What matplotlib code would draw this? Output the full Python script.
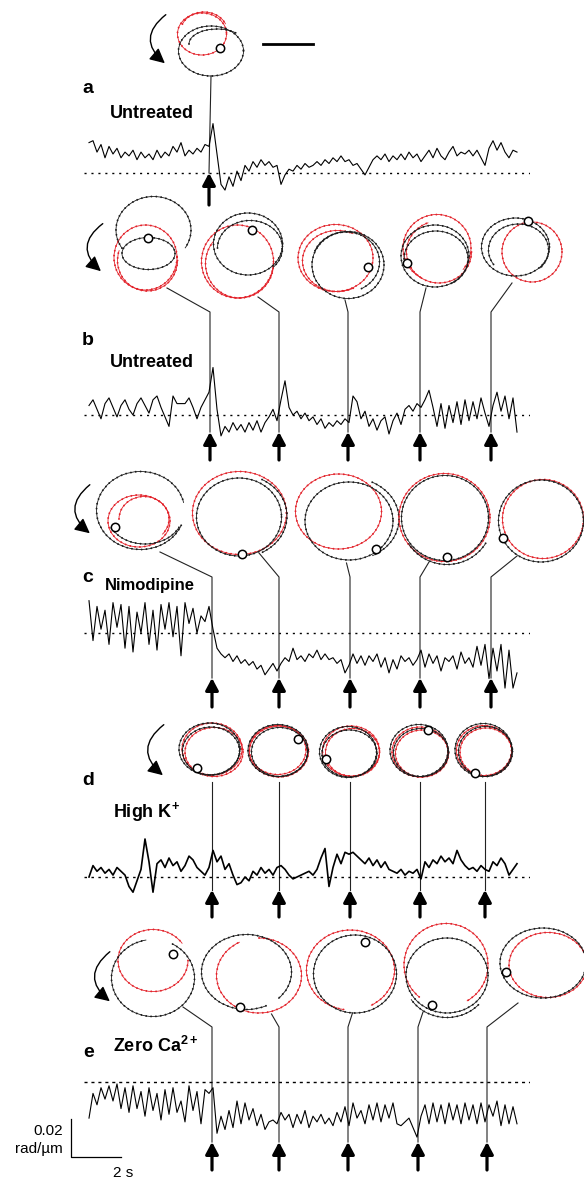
import numpy as np
import matplotlib
matplotlib.use("Agg")
import matplotlib.pyplot as plt
from matplotlib.patches import Arc, FancyArrowPatch

plt.rcParams['font.family'] = ['Liberation Sans', 'DejaVu Sans']
plt.rcParams['mathtext.fontset'] = 'custom'
plt.rcParams['mathtext.rm'] = 'Liberation Sans'
plt.rcParams['mathtext.bf'] = 'Liberation Sans:bold'

# ---------------- data ----------------
DT = 0.16          # sampling interval of the traces (s)
# curvature traces, units of 1e-3 rad/um, relative to the dotted reference level
trace_a = [16, 17, 11, 15, 8, 14, 10, 13, 8, 11, 9, 12, 7, 11, 8, 10, 7, 12, 8, 11, 9, 14, 11, 16, 9, 12, 10, 13, 11, 15,
           14, 26, 10, -6, -9, -2, -7, 1, -4, 4,
           1, 6, 3, 7, 4, 6, 3, 4, -6, -1,
           2, 1, 4, 2, 5, 3, 4, 6, 4, 7,
           5, 8, 6, 9, 6, 7, 4, 5, 2, -1,
           3, 7, 9, 7, 10, 6, 9, 7, 10, 7,
           11, 8, 10, 6, 9, 12, 8, 13, 9, 7,
           11, 14, 9, 11, 10, 12, 9, 12, 8, 4,
           13, 17, 12, 16, 11, 8, 12, 11]
trace_b = [5, 8, 3, -2, 6, 9, 4, -1, 5, 8, 3, 0, 6, 9, 5, 1, 8, 10, 4, -1, -6, 10, 6, 6, 6, 9, 4, -2, 4, 8,
           12, 25, 3, -11, -6, -9, -4, -8, -5, -9,
           -4, -8, -3, -9, -4, -1, 3, -3, 8, 18,
           4, 0, 2, -2, 1, -3, -1, -5, -2, -7,
           -4, -6, -3, -5, -2, -4, 10, 7, -2, 2,
           -6, -2, -8, -3, -1, -10, -3, 1, -5, 3,
           5, 2, 6, 4, 8, 13, 4, -6, 6, -7,
           5, -4, 7, -5, 8, -3, 7, -2, 9, 1,
           -6, 5, 12, 2, 10, -2, 9, -9]
trace_c = [17, -4, 14, 2, 12, -6, 16, 3, 15, -8, 14, -10, 11, 0, 16, -6, 12, -9, 15, 2, 16, -2, 14, -12, 16, 5, 13, 0, 9, 6,
           14, 2, -8, -11, -13, -11, -15, -12, -16, -14,
           -17, -15, -19, -17, -22, -19, -16, -20, -16, -13,
           -15, -8, -14, -12, -15, -11, -13, -9, -14, -11,
           -14, -13, -16, -14, -21, -17, -11, -16, -12, -17,
           -12, -15, -11, -18, -13, -21, -14, -19, -12, -15,
           -13, -17, -14, -9, -18, -11, -16, -12, -20, -13,
           -15, -12, -19, -10, -16, -13, -18, -7, -17, -6,
           -24, -8, -20, -6, -29, -9, -29, -21]
trace_d = [0, 6, 3, 5, 2, 4, 1, 5, 3, 1, -5, -8, -2, 4, 20, 8, -8, 7, 9, 5,
           10, 6, 8, 3, 6, 11, 9, 5, 3, 1,
           5, 14, 8, 11, 4, 7, 1, -4, -3, 0,
           -2, 3, 1, 5, 2, 4, 1, 5, 6, 4,
           1, -1, 0, 1, 2, 3, 1, 4, 10, 15,
           -5, 5, 12, 7, 13, 12, 13, 11, 9, 7,
           10, 6, 9, 5, 8, 4, 3, 2, 4, 1,
           3, 2, 4, -1, 8, 5, 9, 7, 11, 8,
           10, 7, 14, 9, 6, 4, 5, 3, 6, 4,
           3, 8, 6, 10, 7, 1, 4, 7]
trace_e = [-19, -6, -12, -3, -9, -2, -10, -1, -14, -3, -16, -2, -14, -5, -18, -3, -15, -6, -20, -4, -17, -3, -16, -10, -21, -2, -15, -5, -22, -4,
           -6, -3, -27, -18, -25, -15, -24, -10, -22, -11,
           -20, -14, -23, -17, -25, -21, -20, -22, -16, -20,
           -17, -24, -17, -22, -15, -24, -18, -21, -17, -22,
           -19, -23, -16, -21, -13, -23, -11, -19, -15, -22,
           -12, -20, -11, -21, -12, -19, -11, -22, -23, -21,
           -19, -24, -29, -18, -12, -22, -11, -21, -12, -22,
           -11, -20, -12, -22, -11, -20, -12, -22, -11, -21,
           -12, -18, -10, -23, -12, -22, -13, -22]

# times of the marked events (s)
events_a = [4.80]
events_b = [4.84, 7.60, 10.36, 13.24, 16.08]
events_c = [4.92, 7.60, 10.44, 13.24, 16.08]
events_d = [4.92, 7.60, 10.44, 13.24, 15.84]
events_e = [4.92, 7.60, 10.36, 13.16, 15.92]

# tip trajectories (um): arcs (dx, dy, width, height, theta1, theta2) relative to event,
# k = black, r = red, o = open-circle marker, c = connector start
traj_a = [dict(k=[(0.04, 0.12, 1.30, 1.00, 0, 360), (0.16, -0.02, 1.12, 0.60, 180, 330)],
               r=[(-0.14, -0.22, 0.98, 0.84, 0, 360), (-0.10, -0.26, 0.94, 0.80, 200, 340)],
               o=(0.22, 0.06), c=(0.04, 0.62))]
traj_b = [
    dict(k=[(-1.13, -0.50, 1.50, 1.34, 150, 390), (-1.23, -0.03, 1.06, 0.64, 0, 360)],
         r=[(-1.29, 0.05, 1.26, 1.30, 0, 360), (-1.25, 0.11, 1.20, 1.22, 0, 200)],
         o=(-1.24, -0.34), c=(-0.86, 0.66)),
    dict(k=[(-0.62, -0.22, 1.38, 1.24, 0, 360), (-0.58, -0.14, 1.30, 1.10, 180, 400)],
         r=[(-0.83, 0.13, 1.44, 1.46, 0, 360), (-0.79, 0.17, 1.36, 1.38, 0, 220)],
         o=(-0.55, -0.50), c=(-0.42, 0.84)),
    dict(k=[(0.00, 0.20, 1.44, 1.34, 0, 360), (-0.04, 0.14, 1.34, 1.20, 200, 420)],
         r=[(-0.25, 0.06, 1.50, 1.34, 0, 360), (-0.21, 0.12, 1.40, 1.22, 60, 300)],
         o=(0.40, 0.24), c=(-0.06, 0.90)),
    dict(k=[(0.30, 0.02, 1.36, 1.24, 0, 360), (0.32, 0.08, 1.28, 1.12, 180, 420)],
         r=[(0.34, -0.14, 1.36, 1.34, 120, 400), (0.38, -0.06, 1.30, 1.24, 0, 250)],
         o=(-0.26, 0.16), c=(0.12, 0.66)),
    dict(k=[(0.49, -0.16, 1.36, 1.16, 0, 360), (0.55, -0.10, 1.20, 1.04, 150, 400)],
         r=[(0.82, -0.06, 1.20, 1.20, 0, 360)],
         o=(0.74, -0.68), c=(0.42, 0.56)),
]
traj_c = [
    dict(k=[(-1.43, -0.15, 1.76, 1.56, 20, 350), (-1.34, -0.06, 1.50, 1.16, 20, 160)],
         r=[(-1.46, 0.06, 1.24, 1.04, 0, 360), (-1.36, 0.02, 1.00, 0.90, 180, 400)],
         o=(-1.94, 0.18), c=(-1.04, 0.68)),
    dict(k=[(-0.80, -0.02, 1.70, 1.56, 0, 360), (-0.76, -0.04, 1.84, 1.64, 300, 420)],
         r=[(-0.79, -0.10, 1.88, 1.66, 0, 360)],
         o=(-0.75, 0.72), c=(-0.40, 0.70)),
    dict(k=[(-0.02, 0.06, 1.76, 1.56, 0, 360), (0.02, 0.02, 1.92, 1.64, 300, 420)],
         r=[(-0.23, -0.13, 1.72, 1.50, 0, 360)],
         o=(0.51, 0.62), c=(-0.07, 0.90)),
    dict(k=[(0.50, 0.00, 1.74, 1.70, 0, 360), (0.54, 0.06, 1.80, 1.74, 30, 150)],
         r=[(0.49, -0.01, 1.82, 1.76, 0, 360)],
         o=(0.54, 0.78), c=(0.18, 0.88)),
    dict(k=[(1.00, 0.06, 1.70, 1.64, 0, 360)],
         r=[(1.04, 0.02, 1.62, 1.58, 0, 360)],
         o=(0.24, 0.40), c=(0.52, 0.76)),
]
traj_d = [
    dict(k=[(-0.05, -0.02, 1.22, 1.04, 0, 360), (-0.02, 0.02, 1.14, 0.96, 0, 360)],
         r=[(0.00, -0.02, 1.20, 1.04, 0, 360), (0.04, 0.04, 1.16, 0.98, 0, 360)],
         o=(-0.31, 0.36), c=(0.0, 0.64)),
    dict(k=[(-0.02, 0.01, 1.20, 1.04, 0, 360), (0.01, 0.04, 1.12, 0.98, 0, 360)],
         r=[(0.00, 0.03, 1.18, 1.02, 0, 360), (-0.03, 0.00, 1.14, 0.98, 0, 360)],
         o=(0.37, -0.22), c=(0.0, 0.64)),
    dict(k=[(-0.04, 0.04, 1.14, 1.02, 0, 360), (-0.01, 0.07, 1.10, 0.94, 0, 360)],
         r=[(0.02, 0.02, 1.14, 1.00, 0, 360), (0.05, 0.05, 1.08, 0.96, 0, 360)],
         o=(-0.49, 0.18), c=(0.0, 0.64)),
    dict(k=[(-0.02, 0.01, 1.16, 1.04, 0, 360), (0.02, 0.05, 1.10, 0.96, 0, 360)],
         r=[(0.00, 0.04, 1.12, 1.00, 0, 360), (0.04, 0.07, 1.06, 0.94, 0, 360)],
         o=(0.16, -0.40), c=(0.0, 0.64)),
    dict(k=[(-0.03, 0.00, 1.14, 1.06, 0, 360), (0.01, 0.03, 1.08, 1.00, 0, 360)],
         r=[(-0.02, 0.01, 1.10, 1.00, 0, 360), (0.02, 0.04, 1.04, 0.96, 0, 360)],
         o=(-0.20, 0.46), c=(0.0, 0.64)),
]
traj_e = [
    dict(k=[(-1.18, 0.12, 1.66, 1.54, 300, 620)],
         r=[(-1.18, -0.23, 1.40, 1.24, 0, 330)],
         o=(-0.79, -0.36), c=(-0.58, 0.70)),
    dict(k=[(-0.65, 0.00, 1.80, 1.50, 60, 400)],
         r=[(-0.40, 0.07, 1.70, 1.50, 270, 600)],
         o=(-0.78, 0.70), c=(-0.15, 0.84)),
    dict(k=[(0.14, 0.04, 1.66, 1.56, 0, 360)],
         r=[(0.05, -0.04, 1.76, 1.60, 100, 420)],
         o=(0.34, -0.60), c=(0.09, 0.82)),
    dict(k=[(0.58, 0.07, 1.64, 1.50, 0, 360), (0.58, 0.13, 1.70, 1.56, 40, 150)],
         r=[(0.56, -0.14, 1.68, 1.66, 130, 420)],
         o=(0.27, 0.66), c=(0.10, 0.80)),
    dict(k=[(1.12, -0.18, 1.72, 1.40, 0, 360)],
         r=[(1.22, -0.14, 1.56, 1.30, 0, 360)],
         o=(0.38, 0.00), c=(0.62, 0.62)),
]

labels = ['a', 'b', 'c', 'd', 'e']
conditions = ['Untreated', 'Untreated', 'Nimodipine', r'High K$^{\mathbf{+}}$', r'Zero Ca$^{\mathbf{2+}}$']
SCALE_T = 2.0       # s
SCALE_V = 20        # 1e-3 rad/um  (0.02 rad/um)
SCALE_UM = 1.0      # um (top bar)

# ---------------- layout ----------------
W, H = 584, 1179
fig = plt.figure(figsize=(W / 100, H / 100), dpi=100)
canvas = fig.add_axes([0, 0, 1, 1])
canvas.set_xlim(0, W)
canvas.set_ylim(H, 0)
canvas.axis('off')

PX_PER_S = 25.0
PX_PER_UNIT = 1.9
UM = 50.0           # px per um for trajectories
T0_PX = 89
AX_L, AX_R = 84, 530
HALF = 70

RED = '#e3232b'
BLK = '#1c1c1c'

panels = [
    dict(trace=trace_a, events=events_a, traj=traj_a, base=173, row=45, bend=None, arr=(173, 205),
         lab=(82, 93), cond=(110, 118), cfs=13, dash=(1.5, 3.5), tlw=0.8),
    dict(trace=trace_b, events=events_b, traj=traj_b, base=415, row=255, bend=312, arr=(432, 460),
         lab=(82, 345), cond=(110, 367), cfs=13, dash=(1.5, 3.5), tlw=0.8),
    dict(trace=trace_c, events=events_c, traj=traj_c, base=633, row=518, bend=577, arr=(678, 707),
         lab=(82, 582), cond=(105, 590), cfs=12, dash=(1.5, 3.5), tlw=0.8),
    dict(trace=trace_d, events=events_d, traj=traj_d, base=877, row=750, bend=None, arr=(890, 917),
         lab=(82, 785), cond=(113, 817), cfs=13, dash=(1.8, 3.2), tlw=1.2),
    dict(trace=trace_e, events=events_e, traj=traj_e, base=1082, row=972, bend=1027, arr=(1142, 1170),
         lab=(83, 1057), cond=(113, 1052), cfs=13, dash=(2.2, 2.8), tlw=0.8),
]
curved = [((168, 13), (167, 65)), ((105, 222), (103, 273)), ((92, 483), (92, 535)),
          ((166, 723), (165, 777)), ((112, 950), (112, 1003))]


def draw_arc(cx, cy, w, h, t1, t2, color):
    canvas.add_patch(Arc((cx, cy), w, h, theta1=t1, theta2=t2, color=color, lw=0.6, zorder=3))
    canvas.add_patch(Arc((cx, cy), w, h, theta1=t1, theta2=t2, color=color, lw=1.4,
                         linestyle=(0, (0.01, 2.5)), capstyle='round', zorder=3))


trace_axes = []
for i, p in enumerate(panels):
    b = p['base']
    axt = fig.add_axes([AX_L / W, 1 - (b + HALF) / H, (AX_R - AX_L) / W, 2 * HALF / H])
    axt.set_xlim((AX_L - T0_PX) / PX_PER_S, (AX_R - T0_PX) / PX_PER_S)
    axt.set_ylim(-HALF / PX_PER_UNIT, HALF / PX_PER_UNIT)
    axt.axis('off')
    axt.patch.set_alpha(0)
    v = np.array(p['trace'], dtype=float)
    t = np.arange(len(v)) * DT
    axt.plot(t, v, color='k', lw=p['tlw'], zorder=2, solid_joinstyle='round')
    axt.axhline(0, color='k', lw=1.0, linestyle=(0, p['dash']), zorder=1)
    trace_axes.append(axt)

    # event x in canvas px via the trace axes' scale
    inv = canvas.transData.inverted()
    for j, te in enumerate(p['events']):
        ex = inv.transform(axt.transData.transform((te, 0)))[0]
        tr = p['traj'][j]
        ry = p['row']
        for (dx, dy, w, h, t1, t2) in tr['r']:
            draw_arc(ex + dx * UM, ry + dy * UM, w * UM, h * UM, t1, t2, RED)
        for (dx, dy, w, h, t1, t2) in tr['k']:
            draw_arc(ex + dx * UM, ry + dy * UM, w * UM, h * UM, t1, t2, BLK)
        ox, oy = tr['o']
        canvas.plot(ex + ox * UM, ry + oy * UM, 'o', ms=6, mfc='white', mec='k', mew=1.1, zorder=6)
        cx0, cy0 = tr['c']
        top, bot = p['arr']
        if p['bend'] is None:
            xs, ys = [ex + cx0 * UM, ex], [ry + cy0 * UM, top]
        else:
            xs, ys = [ex + cx0 * UM, ex, ex], [ry + cy0 * UM, p['bend'], top]
        canvas.plot(xs, ys, color='#222222', lw=0.8, zorder=4)
        canvas.annotate('', xy=(ex, top), xytext=(ex, bot),
                        arrowprops=dict(arrowstyle='-|>,head_length=0.6,head_width=0.32',
                                        lw=2.3, color='k', shrinkA=0, shrinkB=0,
                                        mutation_scale=12), zorder=5)

    canvas.text(p['lab'][0], p['lab'][1], labels[i], fontsize=14, fontweight='bold',
                ha='left', va='baseline')
    canvas.text(p['cond'][0], p['cond'][1], conditions[i], fontsize=p['cfs'], fontweight='bold',
                ha='left', va='baseline')

for (s, e) in curved:
    canvas.add_patch(FancyArrowPatch(s, e, connectionstyle='arc3,rad=0.65',
                                     arrowstyle='-|>,head_length=0.9,head_width=0.45',
                                     mutation_scale=10, lw=1.0, color='k', zorder=5))

# top um scale bar
canvas.plot([263, 263 + SCALE_UM * UM], [44, 44], color='k', lw=2.0)

# calibration bar in trace e
axe = trace_axes[-1]
t_bar = (71 - T0_PX) / PX_PER_S
v_bot = (panels[-1]['base'] - 1157) / PX_PER_UNIT
axe.plot([t_bar, t_bar, t_bar + SCALE_T], [v_bot + SCALE_V, v_bot, v_bot], color='k', lw=0.9,
         clip_on=False)
canvas.text(63, 1135, '0.02', fontsize=11, ha='right', va='baseline')
canvas.text(63, 1153, 'rad/µm', fontsize=11, ha='right', va='baseline')
canvas.text(113, 1177, '2 s', fontsize=11, ha='left', va='baseline')

fig.savefig('out.png', dpi=100)
